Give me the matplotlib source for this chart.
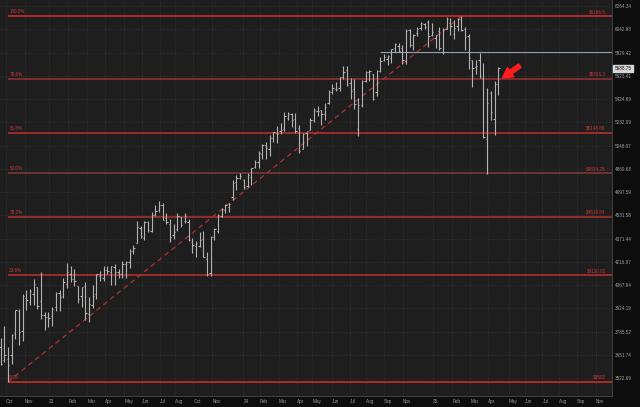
import pandas as pd
import matplotlib.pyplot as plt
import matplotlib.transforms as mtransforms

plt.rcParams['font.family'] = ['Liberation Sans', 'DejaVu Sans']

# weekly ES bars, Sep 26 2022 .. Apr 28 2025
opens = [3694, 3621, 3630, 3649, 3775, 3910, 3788, 3985, 3962, 4010, 4057, 3968, 3881, 3869,
         3877, 3933, 4019, 3998, 4072, 4135, 4109, 4063, 4002, 4062, 3887, 3946, 4010, 4127,
         4113, 4161, 4153, 4183, 4151, 4139, 4201, 4214, 4290, 4341, 4446, 4374, 4483, 4425,
         4532, 4567, 4606, 4510, 4474, 4392, 4435, 4517, 4494, 4487, 4348, 4318, 4320, 4369,
         4235, 4142, 4384, 4424, 4523, 4566, 4592, 4658, 4770, 4800,
         4785, 4742, 4807, 4886, 4922, 4984, 5051, 5019, 5110, 5143, 5161, 5175, 5268, 5302,
         5260, 5188, 5024, 5147, 5172, 5248, 5328, 5334, 5299, 5394, 5481, 5508, 5516, 5614,
         5678, 5562, 5509, 5181, 5374, 5581, 5657, 5639, 5482, 5667, 5761, 5773, 5779, 5869,
         5892, 5866, 5753, 6033, 5900, 6010, 6055, 6095, 6113, 5988, 5965,
         6024, 5835, 6049, 6099, 5997, 6070, 6141, 6043, 5980, 5760, 5698, 5760, 5600, 5100,
         5476, 5262, 5555]
highs = [3749, 3819, 3698, 3772, 3915, 3920, 4009, 4035, 4040, 4105, 4057, 4150, 3904, 3904,
         3930, 4025, 4035, 4114, 4212, 4191, 4172, 4063, 4057, 4086, 3995, 4068, 4137, 4158,
         4187, 4190, 4189, 4204, 4170, 4225, 4223, 4299, 4330, 4489, 4458, 4494, 4489, 4558,
         4605, 4631, 4616, 4545, 4505, 4470, 4550, 4520, 4551, 4503, 4375, 4354, 4416, 4420,
         4280, 4388, 4441, 4538, 4582, 4611, 4617, 4787, 4823, 4835,
         4795, 4837, 4878, 4936, 5005, 5057, 5072, 5131, 5156, 5202, 5229, 5313, 5314, 5309,
         5305, 5207, 5150, 5156, 5270, 5352, 5365, 5334, 5390, 5500, 5555, 5572, 5615, 5709,
         5710, 5601, 5599, 5430, 5590, 5667, 5671, 5639, 5676, 5785, 5816, 5811, 5864, 5918,
         5914, 5895, 6041, 6043, 5995, 6062, 6114, 6101, 6135, 6098, 5994,
         6064, 6051, 6163, 6152, 6129, 6152, 6166.5, 6060, 5998, 5762, 5761, 5829, 5735, 5520,
         5495, 5581, 5700]
lows = [3596, 3611, 3502, 3600, 3740, 3707, 3729, 3913, 3944, 3945, 3922, 3857, 3792, 3810,
        3818, 3909, 3905, 3985, 4047, 4084, 4060, 3955, 3934, 3853, 3839, 3928, 3978, 4094,
        4096, 4135, 4068, 4065, 4114, 4111, 4114, 4176, 4268, 4338, 4375, 4364, 4418, 4417,
        4529, 4552, 4496, 4469, 4350, 4368, 4422, 4448, 4476, 4357, 4275, 4250, 4315, 4250,
        4128, 4122, 4364, 4406, 4520, 4548, 4554, 4640, 4712, 4793,
        4722, 4737, 4749, 4878, 4875, 4946, 4944, 4966, 5073, 5069, 5141, 5161, 5252, 5191,
        5149, 4992, 5020, 5044, 5172, 5238, 5280, 5210, 5250, 5384, 5471, 5496, 5491, 5599,
        5537, 5428, 5338, 5120, 5357, 5570, 5580, 5418, 5446, 5656, 5749, 5721, 5738, 5834,
        5832, 5728, 5725, 5878, 5852, 5981, 6039, 6043, 5883, 5981, 5874,
        5851, 5812, 6045, 5994, 5951, 6027, 6029, 5854, 5679, 5530, 5642, 5600, 5109, 4834,
        5255, 5131, 5456]
closes = [3598, 3652, 3595, 3763, 3911, 3780, 4001, 3972, 4032, 4077, 3938, 3881, 3873, 3866,
          3919, 4021, 3993, 4090, 4153, 4105, 4092, 3981, 4055, 3893, 3948, 4000, 4136, 4130,
          4161, 4155, 4188, 4153, 4139, 4205, 4216, 4291, 4306, 4451, 4386, 4486, 4432, 4535,
          4563, 4606, 4499, 4482, 4385, 4418, 4525, 4463, 4490, 4361, 4325, 4343, 4359, 4251,
          4141, 4380, 4435, 4531, 4573, 4606, 4612, 4767, 4800, 4812,
          4737, 4822, 4875, 4924, 4989, 5054, 5030, 5109, 5153, 5136, 5167, 5286, 5303, 5249,
          5165, 5006, 5136, 5161, 5253, 5330, 5328, 5297, 5362, 5485, 5515, 5508, 5612, 5657,
          5545, 5496, 5380, 5374, 5581, 5659, 5668, 5424, 5666, 5755, 5787, 5797, 5857, 5904,
          5843, 5761, 6025, 5896, 5991, 6050, 6105, 6063, 5981, 6019, 5987,
          5869, 6036, 6136, 6073, 6054, 6139, 6033, 5972, 5782, 5690, 5713, 5623, 5114, 5390,
          5318, 5555, 5688.75]

dates = pd.date_range('2022-09-26', periods=len(closes), freq='W-MON')

# fibonacci retracement, low Oct 2022 -> high Feb 2025
fib_start = pd.Timestamp('2022-10-10')
fib_end = pd.Timestamp('2025-02-17')
fib_pcts = ['100.0%', '78.6%', '61.8%', '50.0%', '38.2%', '23.6%', '0.0%']
fib_vals = [6166.5, 5596.3, 5148.66, 4834.25, 4519.84, 4130.82, 3502]
fib_text = ['$6166.5', '$5596.3', '$5148.66', '$4834.25', '$4519.84', '$4130.82', '$3502']
fib_colors = ['#d8302b', '#9c2f2f', '#c2302c', '#843838', '#b22f2c', '#c2302c', '#d8302b']

resist_level = 5836
resist_start = pd.Timestamp('2024-09-16')
last_price = 5688.75

y_ticks = [6264.34, 6042.98, 5829.42, 5623.41, 5424.69, 5232.99, 5048.07, 4869.68, 4697.59,
           4531.58, 4371.44, 4216.97, 4067.94, 3924.19, 3785.52, 3651.74, 3522.69]

x_labels = ['Oct', 'Nov', '23', 'Feb', 'Mar', 'Apr', 'May', 'Jun', 'Jul', 'Aug', 'Oct', 'Nov',
            '24', 'Feb', 'Mar', 'Apr', 'May', 'Jun', 'Jul', 'Aug', 'Sep', 'Nov',
            '25', 'Feb', 'Mar', 'Apr', 'May', 'Jun', 'Jul', 'Aug', 'Sep', 'Nov']
x_ticks = ['2022-10-06', '2022-11-11', '2022-12-27', '2023-02-02', '2023-03-10', '2023-04-13',
           '2023-05-19', '2023-06-21', '2023-07-25', '2023-08-23', '2023-09-27', '2023-11-02',
           '2023-12-31', '2024-01-31', '2024-03-07', '2024-04-10', '2024-05-10', '2024-06-16',
           '2024-07-21', '2024-08-20', '2024-09-23', '2024-10-29', '2024-12-25', '2025-01-31',
           '2025-03-06', '2025-04-09', '2025-05-18', '2025-06-18', '2025-07-21', '2025-08-21',
           '2025-09-25', '2025-10-30']

fig = plt.figure(figsize=(6.4, 4.07), dpi=100, facecolor='#0d0d0d')
ax = fig.add_axes([0, 11 / 407, 612 / 640, 396 / 407])
ax.set_facecolor('#1e1e1e')
ax.set_yscale('log')
ax.set_ylim(3426, 6323)
ax.set_xlim(pd.Timestamp('2022-09-25'), pd.Timestamp('2025-11-30'))

# grid
ax.set_yticks(y_ticks)
ax.set_yticklabels(['%.2f' % v for v in y_ticks])
ax.minorticks_off()
ax.set_xticks(pd.to_datetime(x_ticks))
ax.set_xticklabels(x_labels, ha='left')
ax.grid(True, color='#3d3d3d', linestyle=(0, (1, 2)), linewidth=0.5)
ax.set_axisbelow(True)
ax.yaxis.tick_right()
ax.tick_params(axis='y', length=0, pad=2, labelsize=3.3, labelcolor='#a0a0a0')
ax.tick_params(axis='x', length=0, pad=2, labelsize=3.3, labelcolor='#a0a0a0')
for s in ['top', 'left']:
    ax.spines[s].set_visible(False)
for s in ['right', 'bottom']:
    ax.spines[s].set_color('#4a4a4a')
    ax.spines[s].set_linewidth(0.6)

xmax = ax.get_xlim()[1]

# fib levels
trans = mtransforms.blended_transform_factory(ax.transAxes, ax.transData)
for pct, val, txt, col in zip(fib_pcts, fib_vals, fib_text, fib_colors):
    ax.hlines(val, fib_start, xmax, color=col, linewidth=1.1, zorder=2)
    ax.annotate(pct, (fib_start, val), xytext=(1, 1.5), textcoords='offset points',
                fontsize=3.3, color='#c83838', va='bottom', ha='left')
    ax.annotate(txt, (0.99, val), xycoords=trans, xytext=(0, 1.5), textcoords='offset points',
                fontsize=3.3, color='#c83838', va='bottom', ha='right')

ax.plot([fib_start, fib_end], [fib_vals[-1], fib_vals[0]], color='#b03030',
        linestyle=(0, (4, 3)), linewidth=0.9, zorder=2)

ax.hlines(resist_level, resist_start, xmax, color='#8a9fb2', linewidth=0.8, zorder=2)

# OHLC bars
tick = pd.Timedelta(days=2.5)
bar_col = '#b2b2b2'
ax.vlines(dates, lows, highs, color=bar_col, linewidth=0.8, zorder=3)
ax.hlines(opens, dates - tick, dates, color=bar_col, linewidth=0.8, zorder=3)
ax.hlines(closes, dates, dates + tick, color=bar_col, linewidth=0.8, zorder=3)

# last price tag on the axis
ax.text(1.004, last_price, '%.2f' % last_price, transform=trans, fontsize=3.3, color='#111111',
        va='center', ha='left',
        bbox=dict(boxstyle='square,pad=0.25', facecolor='#d6d6d6', edgecolor='#d6d6d6'),
        clip_on=False)

# red arrow at the last bar
ax.annotate('', xy=(pd.Timestamp('2025-05-06'), 5604), xytext=(pd.Timestamp('2025-06-08'), 5712),
            arrowprops=dict(arrowstyle='simple,head_width=0.9,head_length=0.8,tail_width=0.35',
                            color='#ff1c1c', mutation_scale=9, shrinkA=0, shrinkB=0))

fig.savefig('out.png', dpi=100, facecolor=fig.get_facecolor())
